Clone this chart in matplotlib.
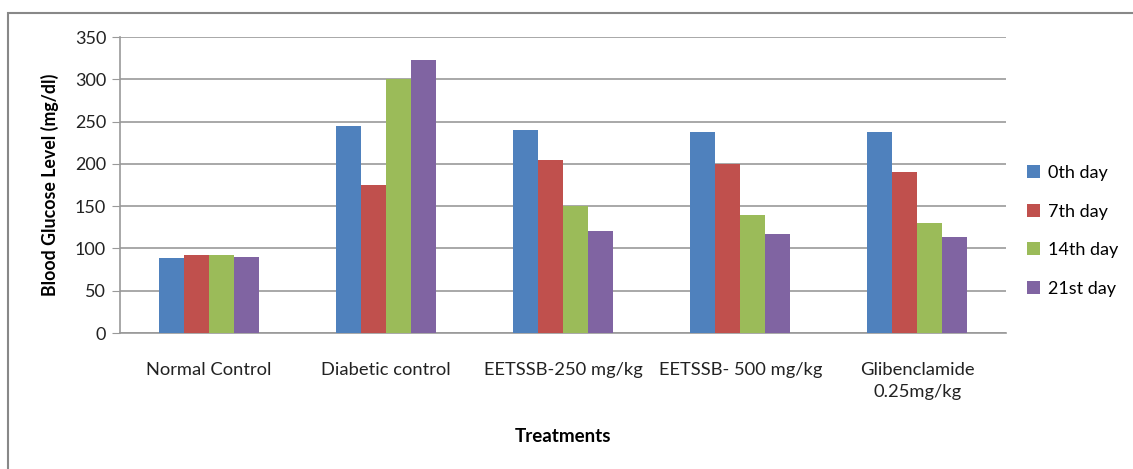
import numpy as np
import matplotlib.pyplot as plt
from matplotlib.patches import Rectangle

# 数据
treatments = ['Normal Control', 'Diabetic control', 'EETSSB-250 mg/kg',
              'EETSSB- 500 mg/kg', 'Glibenclamide\n0.25mg/kg']
days = ['0th day', '7th day', '14th day', '21st day']
day0 = [89, 245, 240, 238, 238]
day7 = [92, 175, 205, 200, 190]
day14 = [92, 300, 150, 139, 130]
day21 = [90, 323, 121, 117, 113]
colors = ['#4F81BD', '#C0504D', '#9BBB59', '#8064A2']

plt.rcParams['font.family'] = ['Lato', 'DejaVu Sans']

fig = plt.figure(figsize=(11.33, 4.69), dpi=100)
ax = fig.add_axes([120 / 1133, 1 - 333 / 469, 886 / 1133, 296 / 469])

x = np.arange(len(treatments))
w = 0.141
for i, vals in enumerate([day0, day7, day14, day21]):
    ax.bar(x + (i - 1.5) * w, vals, w, color=colors[i], label=days[i], zorder=3)

ax.set_xlim(-0.5, len(treatments) - 0.5)
ax.set_ylim(0, 350)
ax.set_yticks(range(0, 351, 50))
ax.set_xticks(x)
ax.set_xticklabels(treatments, fontsize=13.2, color='#222222', linespacing=1.45)
ax.tick_params(axis='x', length=0, pad=21)
ax.tick_params(axis='y', length=6, color='#999999', labelsize=13, labelcolor='#222222', pad=4)
ax.grid(axis='y', color='#999999', linewidth=1.2, zorder=0)
for s in ['top', 'right']:
    ax.spines[s].set_visible(False)
for s in ['left', 'bottom']:
    ax.spines[s].set_color('#999999')
    ax.spines[s].set_linewidth(1.2)

ax.set_ylabel('Blood Glucose Level (mg/dl)', fontsize=12.8, fontweight='bold', labelpad=11)
fig.text(563 / 1133, 1 - 436 / 469, 'Treatments', fontsize=13.5, fontweight='bold',
         ha='center', va='center')

ax.legend(loc='center left', bbox_to_anchor=(1.005, 0.345), frameon=False, fontsize=13,
          handlelength=0.75, handleheight=0.75, handletextpad=0.45, labelspacing=1.25)

# 外框
fig.patches.append(Rectangle((8 / 1133, -0.1), 1.2, 1 - 13 / 469 + 0.1,
                             transform=fig.transFigure, fill=False,
                             edgecolor='#888888', linewidth=1.5))

plt.savefig('out.png', dpi=100)
